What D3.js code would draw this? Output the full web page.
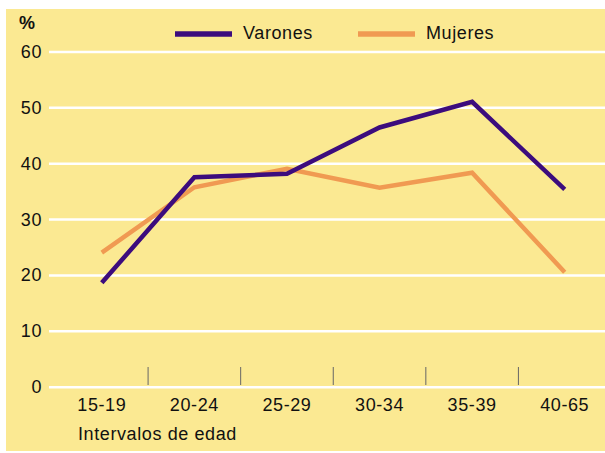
<!DOCTYPE html>
<html>
<head>
<meta charset="utf-8">
<script src="https://cdn.jsdelivr.net/npm/d3@7.9.0/dist/d3.min.js"></script>
<style>
  body { margin: 0; background: #fff; }
  svg { display: block; font-family: "Liberation Sans", Arial, sans-serif; }
  svg text { letter-spacing: 0.6px; }
</style>
</head>
<body>
<div id="chart"></div>
<script>
// data
const categories = ['15-19', '20-24', '25-29', '30-34', '35-39', '40-65'];
const varones = [18.6, 37.5, 38.1, 46.4, 51.0, 35.3];
const mujeres = [24.0, 35.7, 39.0, 35.6, 38.3, 20.5];
const yTicks = [0, 10, 20, 30, 40, 50, 60];
const seriesNames = ['Varones', 'Mujeres'];

const width = 605;
const height = 453;
const fontSize = 18;
const colors = { Varones: '#3c0c7d', Mujeres: '#f09a52' };

const svg = d3.select('#chart')
  .append('svg')
  .attr('width', width)
  .attr('height', height);

// yellow panel
svg.append('rect')
  .attr('x', 6).attr('y', 9)
  .attr('width', width - 6).attr('height', 442)
  .attr('fill', '#fbe992');

const xScale = d3.scaleBand()
  .domain(categories)
  .range([55.5, 611]);

const yScale = d3.scaleLinear()
  .domain([0, 60])
  .range([386.7, 51.5]);

// gridlines
const grid = svg.append('g')
  .attr('transform', 'translate(49, 0)')
  .call(d3.axisLeft(yScale).tickValues(yTicks).tickFormat('').tickSize(-(width - 49)));
grid.select('.domain').remove();
grid.selectAll('line').attr('stroke', '#fff').attr('stroke-width', 2.5);

// y labels
svg.append('g')
  .selectAll('text')
  .data(yTicks)
  .join('text')
  .attr('x', 42)
  .attr('y', d => yScale(d))
  .attr('dy', '0.36em')
  .attr('text-anchor', 'end')
  .attr('font-size', fontSize)
  .attr('fill', '#111')
  .text(d => d);

svg.append('text')
  .attr('x', 19).attr('y', 29)
  .attr('font-size', fontSize)
  .attr('font-weight', 'bold')
  .attr('fill', '#111')
  .text('%');

// separators between categories
svg.append('g')
  .selectAll('line')
  .data(categories.slice(1))
  .join('line')
  .attr('x1', d => xScale(d))
  .attr('x2', d => xScale(d))
  .attr('y1', 367)
  .attr('y2', 385)
  .attr('stroke', '#666')
  .attr('stroke-width', 1);

// x labels
svg.append('g')
  .selectAll('text')
  .data(categories)
  .join('text')
  .attr('x', d => xScale(d) + xScale.bandwidth() / 2)
  .attr('y', 411)
  .attr('text-anchor', 'middle')
  .attr('font-size', fontSize)
  .attr('fill', '#111')
  .text(d => d);

svg.append('text')
  .attr('x', 78).attr('y', 440)
  .attr('font-size', fontSize)
  .attr('fill', '#111')
  .text('Intervalos de edad');

// lines
const line = d3.line()
  .x((d, i) => xScale(categories[i]) + xScale.bandwidth() / 2)
  .y(d => yScale(d));

svg.append('path')
  .datum(mujeres)
  .attr('fill', 'none')
  .attr('stroke', colors.Mujeres)
  .attr('stroke-width', 4.5)
  .attr('d', line);

svg.append('path')
  .datum(varones)
  .attr('fill', 'none')
  .attr('stroke', colors.Varones)
  .attr('stroke-width', 4.5)
  .attr('d', line);

// legend
const legendX = { Varones: 175, Mujeres: 358 };
const legend = svg.append('g')
  .selectAll('g')
  .data(seriesNames)
  .join('g')
  .attr('transform', d => `translate(${legendX[d]}, 34)`);

legend.append('line')
  .attr('x1', 0).attr('x2', 57)
  .attr('stroke', d => colors[d])
  .attr('stroke-width', 5.5);

legend.append('text')
  .attr('x', 68)
  .attr('y', 5)
  .attr('font-size', fontSize)
  .attr('fill', '#111')
  .text(d => d);
</script>
</body>
</html>
